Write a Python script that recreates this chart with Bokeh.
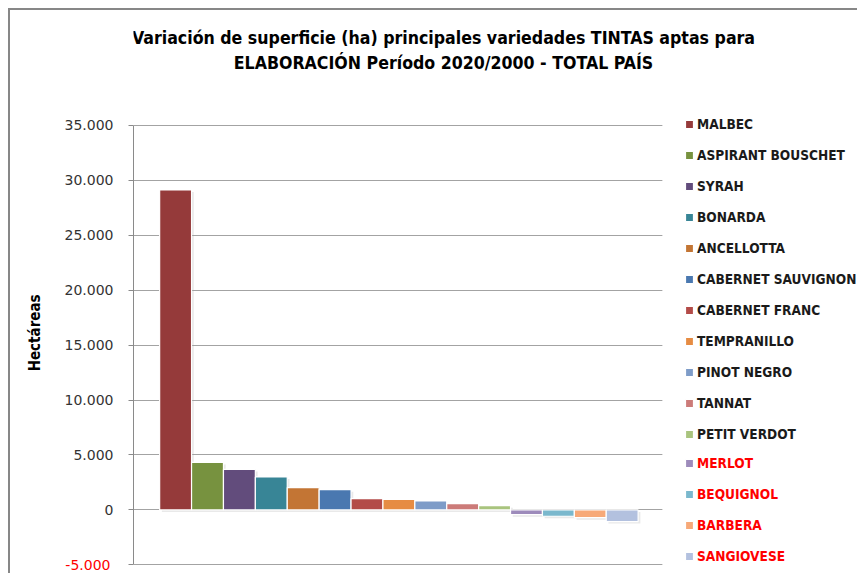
from bokeh.plotting import figure
from bokeh.models import (ColumnDataSource, Range1d, Legend, LegendItem, Label,
                          FixedTicker, CustomJSTickFormatter, LinearAxis, BoxAnnotation)
from bokeh.transform import dodge
from bokeh.embed import file_html
from bokeh.resources import INLINE

# ---- data ----
varieties = ["MALBEC", "ASPIRANT BOUSCHET", "SYRAH", "BONARDA", "ANCELLOTTA",
             "CABERNET SAUVIGNON", "CABERNET FRANC", "TEMPRANILLO", "PINOT NEGRO",
             "TANNAT", "PETIT VERDOT", "MERLOT", "BEQUIGNOL", "BARBERA", "SANGIOVESE"]
variation_ha = [29130, 4330, 3690, 3000, 2030, 1850, 1030, 960, 820, 570, 390,
                -430, -580, -700, -1060]
colors = ["#953A3A", "#77923F", "#624C7C", "#388596", "#C37534", "#4A78B0",
          "#B34B48", "#E68C43", "#7E9CC8", "#CC7B79", "#A9C47E", "#9D8BBB",
          "#7AB8CD", "#F7A978", "#B3C1DF"]
y_ticks = [-5000, 0, 5000, 10000, 15000, 20000, 25000, 30000, 35000]
title_lines = ["Variación de superficie (ha) principales variedades TINTAS aptas para",
               "ELABORACIÓN Período 2020/2000 - TOTAL PAÍS"]
y_label = "Hectáreas"
n_black = 11   # legend entries written in black; the rest (losses) in red

NARROW = "Liberation Sans Narrow, DejaVu Sans Condensed, Roboto, sans-serif"
TICKF = "DejaVu Sans, Verdana, sans-serif"

# layout constants (pixels / range limits)
X_START, X_PLOT_END, X_END = -1.32, 15.26, 21.44
Y_START, Y_END = -5974, 45471
NBSP = "\u00a0" * 17   # pads the rotated axis title so it sits lower

src = ColumnDataSource(dict(x=list(range(len(varieties))), top=variation_ha,
                            base=[0] * len(varieties), color=colors, name=varieties))

p = figure(width=849, height=565, output_backend="svg", toolbar_location=None,
           title=None,
           x_range=Range1d(X_START, X_END), y_range=Range1d(Y_START, Y_END),
           min_border_left=123, min_border_right=0, min_border_top=0,
           min_border_bottom=0)
p.styles = {"margin-left": "8px", "margin-top": "8px",
            "border-left": "2px solid #878787", "border-top": "2px solid #878787"}
p.outline_line_color = None
p.background_fill_color = "white"
p.border_fill_color = "white"

p.xaxis.visible = False
p.xgrid.visible = False
p.ygrid.ticker = FixedTicker(ticks=y_ticks)
p.ygrid.grid_line_color = "#a3a3a3"
p.ygrid.grid_line_width = 1.2

# hide gridlines to the right of the plot area (legend area)
p.add_layout(BoxAnnotation(left=X_PLOT_END, fill_color="white", fill_alpha=1,
                           line_color=None, level="underlay"))

# soft shadow + bars
p.vbar(x=dodge("x", 0.07), top=dodge("top", -190), bottom=dodge("base", -190),
       width=1.0, source=src, fill_color="#9a9a9a", fill_alpha=0.22, line_color=None)
r = p.vbar(x="x", top="top", bottom="base", width=1.0, source=src,
           fill_color="color", line_color="white", line_width=1.2)

ax = p.yaxis[0]
ax.bounds = (y_ticks[0], y_ticks[-1])
ax.ticker = FixedTicker(ticks=y_ticks)
ax.formatter = CustomJSTickFormatter(code="""
    if (tick < 0) { return ""; }
    return Math.round(tick).toString().replace(/\\B(?=(\\d{3})+(?!\\d))/g, ".");
""")
ax.axis_line_color = "#8a8a8a"
ax.major_tick_line_color = "#8a8a8a"
ax.major_tick_out = 5
ax.major_tick_in = 0
ax.minor_tick_line_color = None
ax.major_label_text_font = TICKF
ax.major_label_text_font_size = "14px"
ax.major_label_text_color = "#333333"
ax.major_label_standoff = 15

# outer axis: red negative label + axis title
ax2 = LinearAxis(bounds=(y_ticks[0], y_ticks[-1]),
                 ticker=FixedTicker(ticks=[t for t in y_ticks if t < 0]),
                 formatter=CustomJSTickFormatter(code="""
    var s = Math.round(Math.abs(tick)).toString().replace(/\\B(?=(\\d{3})+(?!\\d))/g, ".");
    return (tick < 0 ? "-" : "") + s;
"""))
ax2.axis_line_color = None
ax2.major_tick_line_color = None
ax2.minor_tick_line_color = None
ax2.major_tick_out = 0
ax2.major_tick_in = 0
ax2.major_label_standoff = -49
ax2.major_label_text_font = TICKF
ax2.major_label_text_font_size = "14px"
ax2.major_label_text_color = "#ff0000"
ax2.axis_label = y_label + NBSP
ax2.axis_label_text_font = NARROW
ax2.axis_label_text_font_style = "bold"
ax2.axis_label_text_font_size = "15px"
ax2.axis_label_text_color = "#000000"
ax2.axis_label_standoff = 18
p.add_layout(ax2, "left")

# title (two centred lines)
for txt, yy in zip(title_lines, [538, 513]):
    p.add_layout(Label(x=310, y=yy, x_units="screen", y_units="screen",
                       text=txt, text_align="center", text_baseline="middle",
                       text_font=NARROW, text_font_style="bold",
                       text_font_size="17.6px", text_color="#000000"))

def make_legend(idxs, loc, color):
    items = [LegendItem(label=varieties[i], renderers=[r], index=i) for i in idxs]
    lg = Legend(items=items, location=loc, margin=0, padding=0,
                glyph_width=10, glyph_height=10, label_standoff=3,
                label_height=22, spacing=9,
                label_text_font=NARROW, label_text_font_style="bold",
                label_text_font_size="13.6px", label_text_color=color,
                border_line_color=None, background_fill_alpha=0)
    p.add_layout(lg, "center")

make_legend(range(0, n_black), (551, 130), "#1a1a1a")
make_legend(range(n_black, len(varieties)), (551, 8), "#ff0000")

open("out.html", "w").write(file_html(p, INLINE))
